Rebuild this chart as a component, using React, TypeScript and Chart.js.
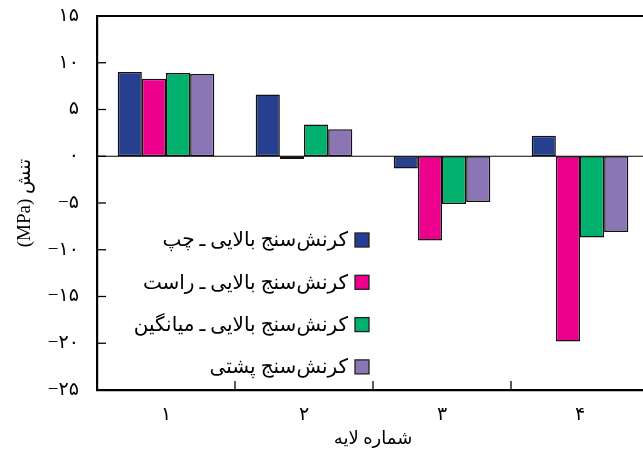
import { useEffect, useRef } from 'react';
import { Chart, registerables } from 'chart.js';

Chart.register(...registerables);

// Layer numbers along the x axis
const layers = ['۱', '۲', '۳', '۴'];

// Gauge names (legend entries)
const seriesNames = [
  'کرنش‌سنج بالایی ـ چپ',
  'کرنش‌سنج بالایی ـ راست',
  'کرنش‌سنج بالایی ـ میانگین',
  'کرنش‌سنج پشتی',
];

// Stress per layer, MPa
const topLeft = [9.0, 6.6, -1.3, 2.2];
const topRight = [8.3, -0.3, -9.0, -19.8];
const topMean = [8.9, 3.4, -5.1, -8.7];
const backGauge = [8.8, 2.9, -4.9, -8.1];

const seriesColors = ['#263F8E', '#EC008C', '#00B06D', '#8B75B5'];

// Y axis ticks written with Persian digits
const yTickValues = [15, 10, 5, 0, -5, -10, -15, -20, -25];
const yTickLabels = ['۱۵', '۱۰', '۵', '۰', '−۵', '−۱۰', '−۱۵', '−۲۰', '−۲۵'];

const xTitle = 'شماره لایه';
const yTitle = 'تنش (MPa)';

const FONT = '"Liberation Serif", "DejaVu Sans", serif';

function strokeLine(ctx: CanvasRenderingContext2D, x1: number, y1: number, x2: number, y2: number) {
  ctx.beginPath();
  ctx.moveTo(x1, y1);
  ctx.lineTo(x2, y2);
  ctx.stroke();
}

// Top frame line, zero line and inward tick marks
const framePlugin = {
  id: 'frame',
  afterDatasetsDraw(chart: any) {
    const { ctx, chartArea, scales } = chart;
    const { left, right, top, bottom } = chartArea;
    const y = scales.y;
    const x = scales.x;
    ctx.save();
    ctx.strokeStyle = '#000';
    ctx.lineWidth = 1.2;
    const y0 = y.getPixelForValue(0);
    strokeLine(ctx, left, y0, right, y0);
    ctx.lineWidth = 2.2;
    strokeLine(ctx, left, top, right, top);
    ctx.lineWidth = 1.3;
    for (const v of yTickValues) {
      const py = y.getPixelForValue(v);
      strokeLine(ctx, left, py, left + 9, py);
    }
    for (let i = 0; i < layers.length - 1; i++) {
      const px = (x.getPixelForValue(i) + x.getPixelForValue(i + 1)) / 2;
      strokeLine(ctx, px, bottom, px, bottom - 9);
    }
    ctx.restore();
  },
};

// Rotated y-axis title and the in-plot legend (box to the right of text)
const annotationPlugin = {
  id: 'annotations',
  afterDraw(chart: any) {
    const { ctx, chartArea } = chart;
    ctx.save();
    ctx.direction = 'rtl';
    ctx.fillStyle = '#000';

    ctx.font = `19px ${FONT}`;
    ctx.textAlign = 'center';
    ctx.textBaseline = 'middle';
    ctx.translate(25, (chartArea.top + chartArea.bottom) / 2);
    ctx.rotate(-Math.PI / 2);
    ctx.fillText(yTitle, 0, 0);
    ctx.setTransform(1, 0, 0, 1, 0, 0);

    const boxLeft = chartArea.left + 258;
    const firstY = chartArea.top + 224;
    const step = 42.3;
    const size = 14;
    ctx.font = `20px ${FONT}`;
    ctx.textAlign = 'right';
    chart.data.datasets.forEach((ds: any, i: number) => {
      const cy = firstY + i * step;
      ctx.fillStyle = ds.backgroundColor;
      ctx.fillRect(boxLeft, cy - size / 2, size, size);
      ctx.strokeStyle = '#222';
      ctx.lineWidth = 1.3;
      ctx.strokeRect(boxLeft, cy - size / 2, size, size);
      ctx.fillStyle = '#000';
      ctx.fillText(ds.label, boxLeft - 7, cy + 1);
    });
    ctx.restore();
  },
};

export default function App() {
  const canvasRef = useRef<HTMLCanvasElement | null>(null);

  useEffect(() => {
    const canvas = canvasRef.current;
    if (!canvas) return;
    const values = [topLeft, topRight, topMean, backGauge];
    const chart = new Chart(canvas, {
      type: 'bar',
      data: {
        labels: layers,
        datasets: values.map((data, i) => ({
          label: seriesNames[i],
          data,
          backgroundColor: seriesColors[i],
          borderColor: '#111',
          borderWidth: 1.5,
          borderSkipped: false,
          categoryPercentage: 0.7,
          barPercentage: 1.0,
        })),
      },
      options: {
        responsive: false,
        animation: false,
        devicePixelRatio: 1,
        layout: { padding: { top: 16, left: 0, right: 0, bottom: 0 } },
        plugins: {
          legend: { display: false },
          tooltip: { enabled: false },
        },
        scales: {
          x: {
            grid: { display: false },
            border: { display: true, color: '#000', width: 2.2 },
            ticks: {
              color: '#000',
              font: { family: FONT, size: 19 },
              padding: 6,
            },
            title: {
              display: true,
              text: xTitle,
              color: '#000',
              font: { family: FONT, size: 18 },
              padding: { top: 0, bottom: 0 },
            },
            afterFit(scale: any) {
              scale.height = 60;
              scale.paddingLeft = 0;
              scale.paddingRight = 0;
            },
          },
          y: {
            min: -25,
            max: 15,
            grid: { display: false },
            border: { display: true, color: '#000', width: 2.2 },
            ticks: {
              stepSize: 5,
              color: '#000',
              font: { family: FONT, size: 19 },
              padding: 10,
              callback: (value: any) => {
                const idx = yTickValues.indexOf(Number(value));
                return idx >= 0 ? yTickLabels[idx] : '';
              },
            },
            afterFit(scale: any) {
              scale.width = 97;
              scale.paddingTop = 0;
              scale.paddingBottom = 0;
            },
          },
        },
      },
      plugins: [framePlugin, annotationPlugin],
    });
    return () => chart.destroy();
  }, []);

  return (
    <div style={{ position: 'absolute', left: 0, top: 0, width: 643, height: 450, overflow: 'hidden', background: '#fff' }}>
      <canvas ref={canvasRef} width={649} height={450} style={{ display: 'block' }} />
    </div>
  );
}
